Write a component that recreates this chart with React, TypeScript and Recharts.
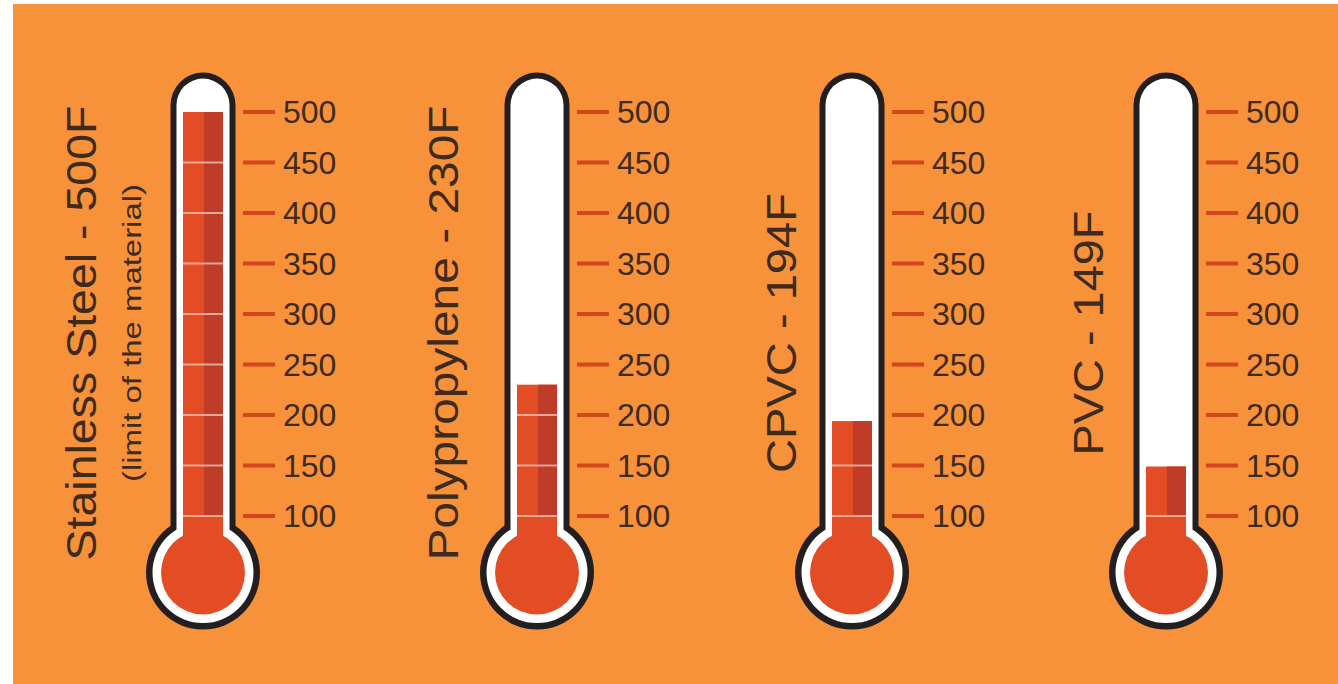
import { BarChart, Bar, XAxis, YAxis } from 'recharts';

// values
const materials = ['Stainless Steel', 'Polypropylene', 'CPVC', 'PVC'];
const maxTemps = [500, 230, 194, 149];
const titles = ['Stainless Steel - 500F', 'Polypropylene - 230F', 'CPVC - 194F', 'PVC - 149F'];
const notes = ['(limit of the material)', '', '', ''];
const tempTicks = [100, 150, 200, 250, 300, 350, 400, 450, 500];

// where each thermometer sits on the page (layout only)
const layout = [
  { left: 32, titleX: 64, titleLen: 455, noteX: 109, noteLen: 298 },
  { left: 366, titleX: 92, titleLen: 455, noteX: 0, noteLen: 0 },
  { left: 681, titleX: 115, titleLen: 280, noteX: 0, noteLen: 0 },
  { left: 995, titleX: 108, titleLen: 245, noteX: 0, noteLen: 0 },
];

const FONT = '"Liberation Sans", Arial, Helvetica, sans-serif';
const ORANGE = '#F7913A';
const OUTLINE = '#231F20';
const RED = '#E34D25';
const RED_DARK = '#BE3C28';
const TICK_RED = '#D6461E';
const TEXT = '#3E2B1D';

// decoration geometry in degrees, so it follows the y scale
const TUBE_TOP_DEG = 539;
const BULB_CENTER_DEG = 44;

function Thermometer(props: any) {
  const { x, y, width, height, payload } = props;
  const v = payload.value as number;
  const ppu = height / v;
  const y0 = y + height;
  const yAt = (t: number) => y0 - t * ppu;
  const cx = x + width / 2;
  const tubeTop = yAt(TUBE_TOP_DEG);
  const cy = yAt(BULB_CENTER_DEG);
  const half = width / 2 + 12.5;
  const innerHalf = half - 6;
  const y100 = yAt(100);

  return (
    <g>
      <circle cx={cx} cy={cy} r={57} fill={OUTLINE} />
      <rect x={cx - half} y={tubeTop} width={half * 2} height={cy - tubeTop} rx={half} ry={half} fill={OUTLINE} />
      <circle cx={cx} cy={cy} r={50.5} fill="#fff" />
      <rect
        x={cx - innerHalf}
        y={tubeTop + 6}
        width={innerHalf * 2}
        height={cy - tubeTop - 6}
        rx={innerHalf}
        ry={innerHalf}
        fill="#fff"
      />
      <rect x={x} y={y} width={width} height={cy - y} fill={RED} />
      {v > 100 && <rect x={cx + 1} y={y} width={width / 2 - 1} height={y100 - y} fill={RED_DARK} />}
      {tempTicks
        .filter((t) => t < v - 5)
        .map((t) => (
          <line key={t} x1={x} x2={x + width} y1={yAt(t)} y2={yAt(t)} stroke="rgba(255,235,225,0.6)" strokeWidth={2} />
        ))}
      <circle cx={cx} cy={cy} r={42} fill={RED} />
    </g>
  );
}

function TitleLabel(props: any) {
  const { viewBox, title, note, spec } = props;
  const vb = viewBox ?? { x: 0, y: 112, width: 130, height: 505 };
  const cy = vb.y + 221;
  const bx = vb.x + spec.titleX;
  return (
    <g>
      <text
        transform={`translate(${bx}, ${cy}) rotate(-90)`}
        textAnchor="middle"
        fontFamily={FONT}
        fontSize={42}
        fill={TEXT}
        textLength={spec.titleLen}
        lengthAdjust="spacingAndGlyphs"
      >
        {title}
      </text>
      {note && (
        <text
          transform={`translate(${vb.x + spec.noteX}, ${cy}) rotate(-90)`}
          textAnchor="middle"
          fontFamily={FONT}
          fontSize={25}
          fill={TEXT}
          textLength={spec.noteLen}
          lengthAdjust="spacingAndGlyphs"
        >
          {note}
        </text>
      )}
    </g>
  );
}

function ThermoChart({ index }: { index: number }) {
  const spec = layout[index];
  const data = [{ name: materials[index], value: maxTemps[index] }];
  return (
    <div style={{ position: 'absolute', left: spec.left, top: 0 }}>
      <BarChart width={321} height={684} data={data} margin={{ top: 112, right: 0, bottom: 67, left: 0 }}>
        <XAxis dataKey="name" hide />
        <YAxis
          yAxisId="title"
          width={130}
          domain={[0, 500]}
          tick={false}
          tickLine={false}
          axisLine={false}
          label={<TitleLabel title={titles[index]} note={notes[index]} spec={spec} />}
        />
        <YAxis
          yAxisId="temp"
          orientation="right"
          width={110}
          domain={[0, 500]}
          ticks={tempTicks}
          interval={0}
          axisLine={false}
          tickSize={32}
          tickMargin={8}
          tickLine={{ stroke: TICK_RED, strokeWidth: 4 }}
          tick={{ fill: TEXT, fontSize: 32, fontFamily: FONT }}
        />
        <Bar
          yAxisId="temp"
          dataKey="value"
          barSize={40}
          isAnimationActive={false}
          shape={(p: any) => <Thermometer {...p} />}
        />
      </BarChart>
    </div>
  );
}

export default function App() {
  return (
    <div style={{ position: 'absolute', left: 0, top: 0, width: 1338, height: 684, background: '#fff' }}>
      <div style={{ position: 'absolute', left: 13, top: 4, width: 1325, height: 680, background: ORANGE }} />
      {materials.map((m, i) => (
        <ThermoChart key={m} index={i} />
      ))}
    </div>
  );
}
